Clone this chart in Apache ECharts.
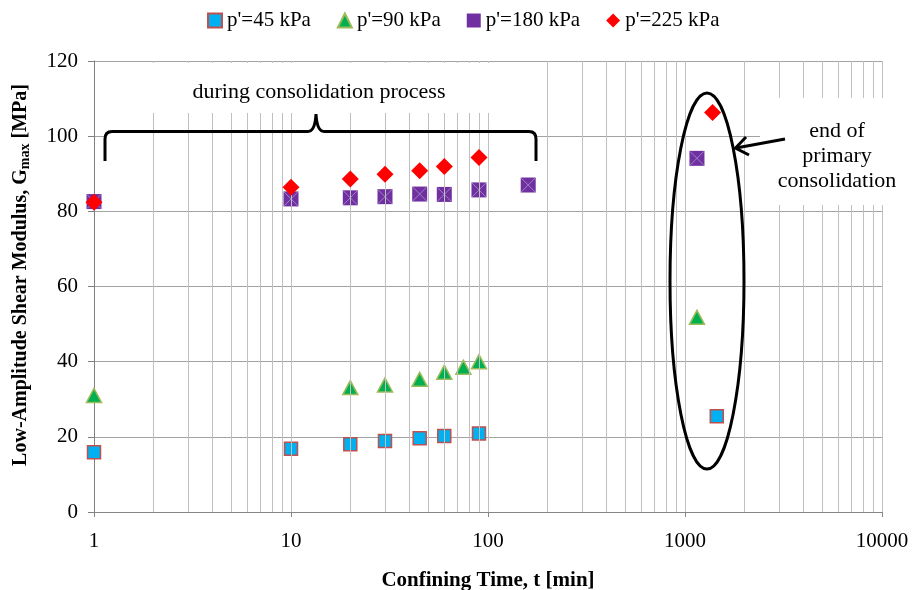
<!DOCTYPE html>
<html>
<head>
<meta charset="utf-8">
<script src="https://cdn.jsdelivr.net/npm/echarts@6/dist/echarts.min.js"></script>
<style>html,body{margin:0;padding:0;background:#fff;}#c{width:912px;height:590px;}</style>
</head>
<body>
<div id="c"></div>
<script>
// ---- data ----
var t45  = [1, 10, 20, 30, 45, 60, 90, 1450];
var g45  = [15.9, 16.8, 18.0, 18.9, 19.6, 20.2, 20.9, 25.5];
var t90  = [1, 20, 30, 45, 60, 75, 90, 1150];
var g90  = [31.0, 33.1, 33.8, 35.3, 37.2, 38.5, 40.0, 51.8];
var t180 = [1, 10, 20, 30, 45, 60, 90, 160, 1150];
var g180 = [82.6, 83.3, 83.6, 83.9, 84.6, 84.5, 85.7, 87.0, 94.1];
var t225 = [1, 10, 20, 30, 45, 60, 90, 1380];
var g225 = [82.4, 86.4, 88.6, 89.9, 90.8, 91.9, 94.3, 106.3];
var seriesNames = ["p'=45 kPa", "p'=90 kPa", "p'=180 kPa", "p'=225 kPa"];
var xTickLabels = ['1', '10', '100', '1000', '10000'];
var yTickLabels = ['0', '20', '40', '60', '80', '100', '120'];

function pairs(t, g) { return t.map(function (v, i) { return [v, g[i]]; }); }

// vertical log gridlines (decade and minor)
var vLines = [];
[1, 10, 100, 1000].forEach(function (d) {
  for (var k = 2; k <= 10; k++) vLines.push({ xAxis: d * k });
});

// annotation shapes
echarts.graphic.registerShape('brace', echarts.graphic.extendPath(
  'M105,161 L105,139 Q105,131.5 112,131.5 L308,131.5 Q315,131.5 316,114 Q317,131.5 324,131.5 L529,131.5 Q536,131.5 536,139 L536,161', {}));
echarts.graphic.registerShape('ovalmark', echarts.graphic.extendPath(
  'M670,281 A37,188 0 1,1 744,281 A37,188 0 1,1 670,281 Z', {}));

var FONT = "'Liberation Serif','Times New Roman',serif";
var chart = echarts.init(document.getElementById('c'), null, { renderer: 'canvas' });

var option = {
  animation: false,
  backgroundColor: '#ffffff',
  grid: { left: 94, right: 30, top: 61, bottom: 78, containLabel: false, outerBoundsMode: 'none' },
  legend: {
    data: seriesNames,
    left: 202, top: 5,
    itemWidth: 14, itemHeight: 14, itemGap: 26,
    textStyle: { fontFamily: FONT, fontSize: 21, color: '#000' }
  },
  xAxis: {
    type: 'log', logBase: 10, min: 1, max: 10000,
    axisLine: { show: true, lineStyle: { color: '#868686', width: 1 } },
    axisTick: { show: true, inside: false, length: 5, lineStyle: { color: '#868686' } },
    axisLabel: {
      margin: 19, fontFamily: FONT, fontSize: 21, color: '#000',
      formatter: function (v) {
        var i = Math.round(Math.log(v) / Math.LN10);
        return xTickLabels[i] !== undefined ? xTickLabels[i] : '';
      }
    },
    splitLine: { show: false },
    name: 'Confining Time, t [min]', nameLocation: 'middle', nameGap: 58,
    nameTextStyle: { fontFamily: FONT, fontSize: 21, fontWeight: 'bold', color: '#000' }
  },
  yAxis: {
    type: 'value', min: 0, max: 120, interval: 20,
    axisLine: { show: true, lineStyle: { color: '#808080', width: 1 } },
    axisTick: { show: true, inside: false, length: 6, lineStyle: { color: '#808080' } },
    axisLabel: {
      margin: 16, fontFamily: FONT, fontSize: 21, color: '#000',
      formatter: function (v) { return yTickLabels[Math.round(v / 20)]; }
    },
    splitLine: { show: true, lineStyle: { color: '#A3A3A3', width: 1 } }
  },
  series: [
    {
      name: 'vgrid', type: 'line', data: [], z: 2, silent: true,
      markLine: {
        silent: true, symbol: ['none', 'none'], animation: false,
        label: { show: false },
        lineStyle: { color: '#C0C0C0', width: 1, type: 'solid' },
        emphasis: { disabled: true },
        data: vLines
      }
    },
    {
      name: seriesNames[0], type: 'scatter', z: 3, data: pairs(t45, g45),
      symbol: 'rect', symbolSize: 13,
      itemStyle: { color: '#00B0F0', borderColor: '#C0504D', borderWidth: 1.5, opacity: 1 }
    },
    {
      name: seriesNames[1], type: 'scatter', z: 3, data: pairs(t90, g90),
      symbol: 'triangle', symbolSize: [15, 14],
      itemStyle: { color: '#00B050', borderColor: '#9BBB59', borderWidth: 1.5, opacity: 1 }
    },
    {
      name: seriesNames[2], type: 'scatter', z: 3, data: pairs(t180, g180),
      symbol: 'rect', symbolSize: 15,
      itemStyle: { color: '#7030A0', opacity: 1 }
    },
    {
      name: 'x180', type: 'scatter', z: 4, data: pairs(t180, g180), silent: true,
      symbol: 'path://M0,0L10,10M10,0L0,10', symbolSize: 14,
      itemStyle: { color: 'none', borderColor: '#9A84C6', borderWidth: 1, opacity: 1 }
    },
    {
      name: seriesNames[3], type: 'scatter', z: 5, data: pairs(t225, g225),
      symbol: 'diamond', symbolSize: [17, 17],
      itemStyle: { color: '#FF0000', opacity: 1 }
    }
  ],
  graphic: [
    {
      type: 'text', x: 21, y: 275, rotation: Math.PI / 2, z: 10,
      style: {
        text: '{b|Low-Amplitude Shear Modulus, G}{s|max}{b| [MPa]}',
        align: 'center', verticalAlign: 'middle', fill: '#000',
        rich: {
          b: { fontFamily: FONT, fontSize: 20, fontWeight: 'bold', lineHeight: 22, fill: '#000' },
          s: { fontFamily: FONT, fontSize: 14, fontWeight: 'bold', lineHeight: 14, verticalAlign: 'bottom', fill: '#000' }
        }
      }
    },
    { type: 'rect', z: 1, shape: { x: 106, y: 134, width: 429, height: 5 }, style: { fill: '#fff' } },
    { type: 'rect', z: 6, shape: { x: 100, y: 63, width: 440, height: 50 }, style: { fill: '#fff' } },
    {
      type: 'text', z: 7, x: 319, y: 92,
      style: { text: 'during consolidation process', font: '22px ' + FONT, fill: '#000', align: 'center', verticalAlign: 'middle' }
    },
    { type: 'brace', z: 7, style: { fill: 'none', stroke: '#000', lineWidth: 3 } },
    { type: 'rect', z: 6, shape: { x: 760, y: 98, width: 138, height: 107 }, style: { fill: '#fff' } },
    {
      type: 'text', z: 7, x: 837, y: 156,
      style: { text: 'end of\nprimary\nconsolidation', font: '22px ' + FONT, lineHeight: 25, fill: '#000', align: 'center', verticalAlign: 'middle' }
    },
    { type: 'ovalmark', z: 7, style: { fill: 'none', stroke: '#000', lineWidth: 3 } },
    {
      type: 'polyline', z: 7,
      shape: { points: [[785, 139], [736, 148]] },
      style: { stroke: '#000', lineWidth: 3, fill: 'none' }
    },
    {
      type: 'polyline', z: 7,
      shape: { points: [[746, 137], [735.5, 148], [749, 155]] },
      style: { stroke: '#000', lineWidth: 3, fill: 'none' }
    }
  ]
};
chart.setOption(option);
</script>
</body>
</html>
